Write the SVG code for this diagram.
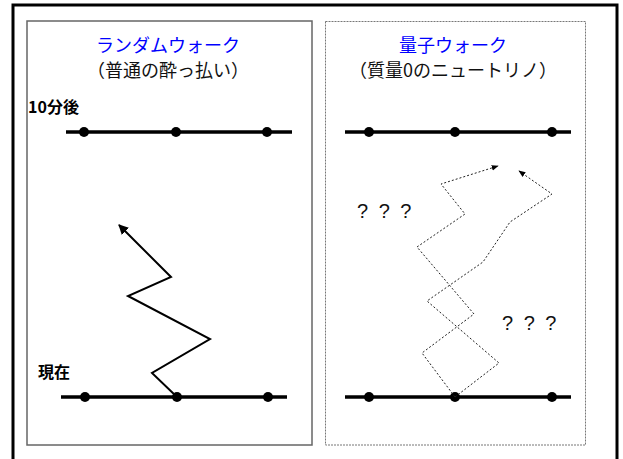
<svg xmlns="http://www.w3.org/2000/svg" width="623" height="459" viewBox="0 0 623 459">
<style>
.title{font-family:"Noto Sans CJK JP","Noto Sans",sans-serif;font-size:18px;fill:#0000ff;text-anchor:middle}
.sub{font-family:"Noto Sans CJK JP","Noto Sans",sans-serif;font-size:18px;fill:#111;text-anchor:middle}
.lbl{font-family:"Noto Sans CJK JP","Noto Sans",sans-serif;font-size:16px;font-weight:bold;fill:#000}
.q{font-family:"Liberation Sans","DejaVu Sans",sans-serif;font-size:20px;fill:#111;word-spacing:5px}
.axis{stroke:#000;stroke-width:3.5;fill:none}
.dot{fill:#000}
.walk{stroke:#000;stroke-width:2;fill:none;stroke-linejoin:miter}
.qwalk{stroke:#222;stroke-width:1;fill:none;stroke-dasharray:2,2}
</style>
<defs>
<marker id="ah" viewBox="0 0 10 10" refX="9" refY="5" markerWidth="5" markerHeight="5" orient="auto" markerUnits="strokeWidth">
<path d="M0,0 L10,5 L0,10 z" fill="#000"/>
</marker>
<marker id="ahq" viewBox="0 0 10 10" refX="9" refY="5" markerWidth="7" markerHeight="7" orient="auto" markerUnits="strokeWidth">
<path d="M0,1 L10,5 L0,9 z" fill="#000"/>
</marker>
</defs>
<rect x="13" y="5" width="604" height="470" fill="#fff" stroke="#000" stroke-width="3"/>
<g id="panel-random">
<rect x="27" y="21" width="285" height="424" fill="none" stroke="#666" stroke-width="1.5"/>
<text class="title" x="168" y="52">ランダムウォーク</text>
<text class="sub" x="168" y="77">（普通の酔っ払い）</text>
</g>
<g id="panel-quantum">
<rect x="325.5" y="21.5" width="260" height="423.5" fill="none" stroke="#777" stroke-width="1" stroke-dasharray="2,1"/>
<text class="title" x="453" y="52">量子ウォーク</text>
<text class="sub" x="453" y="77">（質量0のニュートリノ）</text>
</g>
<g id="label-after"><text class="lbl" x="28" y="113">10分後</text></g>
<g id="label-now"><text class="lbl" x="38" y="378">現在</text></g>
<g id="axis-left-top">
<line class="axis" x1="66" y1="132" x2="292" y2="132"/>
<circle class="dot" cx="84" cy="132" r="5"/><circle class="dot" cx="176" cy="132" r="5"/><circle class="dot" cx="267" cy="132" r="5"/>
</g>
<g id="axis-right-top">
<line class="axis" x1="345" y1="132" x2="571" y2="132"/>
<circle class="dot" cx="369" cy="132" r="5"/><circle class="dot" cx="455" cy="132" r="5"/><circle class="dot" cx="552" cy="132" r="5"/>
</g>
<g id="axis-left-bottom">
<line class="axis" x1="61" y1="397" x2="287" y2="397"/>
<circle class="dot" cx="85" cy="397" r="5"/><circle class="dot" cx="177" cy="397" r="5"/><circle class="dot" cx="268" cy="397" r="5"/>
</g>
<g id="axis-right-bottom">
<line class="axis" x1="345" y1="397" x2="571" y2="397"/>
<circle class="dot" cx="369" cy="397" r="5"/><circle class="dot" cx="455" cy="397" r="5"/><circle class="dot" cx="552" cy="397" r="5"/>
</g>
<g id="question-marks">
<text class="q" x="357" y="218">? ? ?</text>
<text class="q" x="502" y="330">? ? ?</text>
</g>
<g id="connectors">
<polyline class="walk" points="177,397 152,373 210,339 128,296 171,277 119,225" marker-end="url(#ah)"/>
<polyline class="qwalk" points="455,397 422,353 474,314 417,247 465,214 441,184 498,166" marker-end="url(#ahq)"/>
<polyline class="qwalk" points="455,397 499,363 427,301 483,262 510,222 552,194 519,171" marker-end="url(#ahq)"/>
</g>
</svg>
